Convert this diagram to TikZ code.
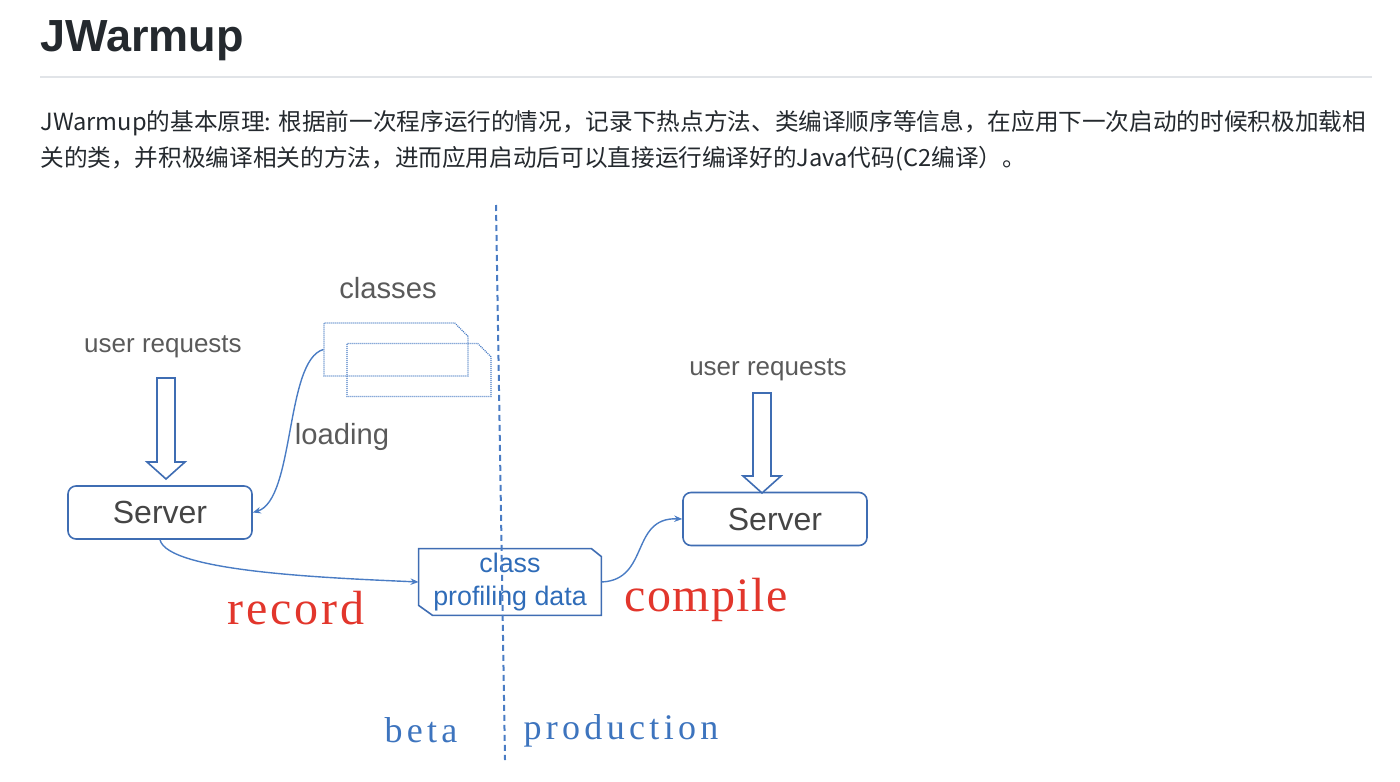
\documentclass[tikz,border=0pt]{standalone}
\usepackage{fontspec}
\setmainfont{Liberation Sans}
\newfontfamily\cjkfont{Noto Sans CJK SC}
\newfontfamily\recfont[LetterSpace=6]{Liberation Serif}
\newfontfamily\cmpfont[LetterSpace=3]{Liberation Serif}
\newfontfamily\sidefont[LetterSpace=12]{Liberation Serif}
\usepackage{xcolor}
\usetikzlibrary{arrows.meta,positioning,calc,shapes.misc}
\definecolor{inkdark}{HTML}{24292E}
\definecolor{rulegray}{HTML}{E1E4E8}
\definecolor{boxblue}{HTML}{3F6DB3}
\definecolor{linkblue}{HTML}{4A7CC4}
\definecolor{txtgray}{HTML}{5A5A5A}
\definecolor{srvgray}{HTML}{454545}
\definecolor{profblue}{HTML}{2F6CB8}
\definecolor{markred}{HTML}{E2362C}
\definecolor{sideblue}{HTML}{3D74BE}

\begin{document}
\begin{tikzpicture}[x=0.5pt,y=-0.5pt,>={Stealth[length=4pt,width=3.2pt]},
 title/.style={font=\fontsize{22.5}{26}\selectfont\bfseries,text=inkdark,inner sep=0pt},
 bodytxt/.style={font=\cjkfont\fontsize{11.82}{18}\selectfont,text=inkdark,inner sep=0pt},
 server/.style={draw=boxblue,line width=0.8pt,rounded corners=4pt,minimum width=92pt,minimum height=26.5pt,text=srvgray,font=\fontsize{16}{18}\selectfont},
 docbox/.style={draw=linkblue,line width=0.6pt,dash pattern=on 0.5pt off 0.5pt,chamfered rectangle,chamfered rectangle corners=north east,chamfered rectangle sep=5pt,minimum width=72pt,minimum height=26.5pt},
 profbox/.style={inner sep=0pt,minimum width=91pt,minimum height=33pt,align=center,text=profblue,font=\fontsize{13.4}{16.5}\selectfont},
 profedge/.style={draw=boxblue,line width=0.8pt,line join=miter},
 lbl/.style={text=txtgray,font=\fontsize{13}{15}\selectfont},
 biglbl/.style={text=txtgray,font=\fontsize{14.6}{16}\selectfont},
 redtxt/.style={text=markred},
 sidetxt/.style={text=sideblue,font=\sidefont\fontsize{18}{20}\selectfont},
 blockarr/.style={draw=boxblue,fill=white,line width=0.8pt,line join=miter},
 link/.style={draw=linkblue,line width=0.7pt},
 divider/.style={draw=linkblue,line width=1pt,dash pattern=on 3pt off 2pt}]
\useasboundingbox (0,0) rectangle (1400,781);
\node[title,anchor=base west] (ttl) at (40,52) {JWarmup};
\draw[rulegray,line width=1pt] (40,77) -- (1372,77);
\node[bodytxt,anchor=base west] (txt1) at (40,130) {JWarmup的基本原理: 根据前一次程序运行的情况，记录下热点方法、类编译顺序等信息，在应用下一次启动的时候积极加载相};
\node[bodytxt,anchor=base west] (txt2) at (40,166) {关的类，并积极编译相关的方法，进而应用启动后可以直接运行编译好的Java代码(C2编译）。};
% beta side
\node[server] (srvL) at (160,512.5) {Server};
\node[lbl] (ureqL) at (163,347) {user requests};
\node[docbox] (cls1) at (396,349.5) {};
\node[docbox] (cls2) at (419,370) {};
\node[biglbl] (clsLbl) at (388,288) {classes};
\node[biglbl] (ldLbl) at (342,437) {loading};
\node[profbox] (prof) at (510,582) {class\\profiling data};
\draw[profedge] (prof.north west) -- ($(prof.north east)+(-10,0)$) -- ($(prof.north east)+(0,8)$) -- (prof.south east) -- ($(prof.south west)+(14,0)$) -- ($(prof.south west)+(0,-10)$) -- cycle;
% production side
\node[server] (srvR) at (775,519) {Server};
\node[lbl] (ureqR) at (768,370) {user requests};
\node[redtxt,font=\recfont\fontsize{24}{26}\selectfont] (rec) at (296,608) {record};
\node[redtxt,font=\cmpfont\fontsize{24}{26}\selectfont] (cmp) at (706,600) {compile};
\node[sidetxt] (beta) at (421,730) {beta};
\node[sidetxt] (prodLbl) at (621,731) {production};
% request arrows
\coordinate (aL1) at (166,378); \coordinate (aL2) at (166,479);
\coordinate (aR1) at (762,393); \coordinate (aR2) at (762,493);
\foreach \a/\b in {aL1/aL2,aR1/aR2}{\draw[blockarr] ($(\a)+(-9,0)$) -- ($(\b)+(-9,-17)$) -- ($(\b)+(-19,-17)$) -- (\b) -- ($(\b)+(19,-17)$) -- ($(\b)+(9,-17)$) -- ($(\a)+(9,0)$) -- cycle;}
\draw[link,->] (cls1.west) .. controls (285,360) and (295,500) .. (srvL.east);
\draw[link,->] (srvL.south) .. controls (168,572) and (330,578) .. (prof.west);
\draw[link,->] (prof.east) .. controls (650,580) and (630,517) .. (srvR.west);
\coordinate (divT) at (496,205); \coordinate (divB) at (505,760);
\draw[divider] (divT) -- (divB);
\end{tikzpicture}
\end{document}
